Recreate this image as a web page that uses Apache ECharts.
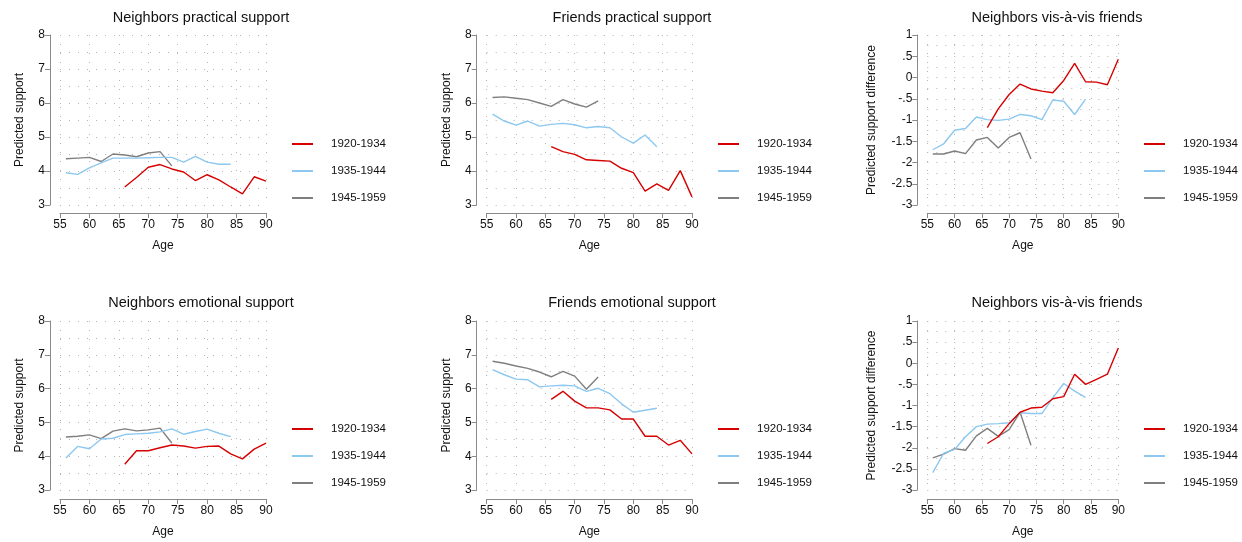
<!DOCTYPE html>
<html>
<head>
<meta charset="utf-8">
<title>Predicted support by age and cohort</title>
<script src="https://cdn.jsdelivr.net/npm/echarts@6/dist/echarts.min.js"></script>
<style>
  html, body { margin: 0; padding: 0; background: #fff; }
  #chart { width: 1242px; height: 542px; }
</style>
</head>
<body>
<div id="chart"></div>
<script>
// ages (even years) shared by all panels
const ages = [56, 58, 60, 62, 64, 66, 68, 70, 72, 74, 76, 78, 80, 82, 84, 86, 88, 90];
const cohorts = ["1920-1934", "1935-1944", "1945-1959"];
const xTicks = [55, 60, 65, 70, 75, 80, 85, 90];
const supportTicks = [3, 4, 5, 6, 7, 8];
const diffTicks = [-3, -2.5, -2, -1.5, -1, -0.5, 0, 0.5, 1];

// Neighbors practical support
const nbPrac1920 = [null, null, null, null, null, 3.53, 3.81, 4.11, 4.19, 4.06, 3.97, 3.72, 3.89, 3.74, 3.53, 3.33, 3.83, 3.70];
const nbPrac1935 = [3.95, 3.90, 4.09, 4.24, 4.38, 4.38, 4.38, 4.39, 4.40, 4.40, 4.26, 4.43, 4.26, 4.20, 4.20, null, null, null];
const nbPrac1945 = [4.36, 4.38, 4.40, 4.28, 4.50, 4.47, 4.42, 4.53, 4.57, 4.15, null, null, null, null, null, null, null, null];

// Friends practical support
const frPrac1920 = [null, null, null, null, null, 4.72, 4.57, 4.49, 4.33, 4.31, 4.29, 4.08, 3.95, 3.41, 3.62, 3.43, 4.01, 3.24];
const frPrac1935 = [5.67, 5.47, 5.35, 5.47, 5.32, 5.37, 5.40, 5.36, 5.27, 5.31, 5.27, 5.00, 4.82, 5.06, 4.71, null, null, null];
const frPrac1945 = [6.16, 6.18, 6.14, 6.10, 6.00, 5.90, 6.10, 5.97, 5.88, 6.06, null, null, null, null, null, null, null, null];

// Neighbors vis-a-vis friends (practical)
const difPrac1920 = [null, null, null, null, null, -1.18, -0.74, -0.40, -0.155, -0.27, -0.32, -0.36, -0.07, 0.33, -0.10, -0.11, -0.17, 0.43];
const difPrac1935 = [-1.70, -1.56, -1.24, -1.20, -0.93, -0.99, -1.01, -0.98, -0.87, -0.90, -0.99, -0.53, -0.56, -0.87, -0.51, null, null, null];
const difPrac1945 = [-1.80, -1.80, -1.73, -1.79, -1.47, -1.41, -1.66, -1.41, -1.30, -1.92, null, null, null, null, null, null, null, null];

// Neighbors emotional support
const nbEmo1920 = [null, null, null, null, null, 3.76, 4.16, 4.16, 4.25, 4.33, 4.30, 4.24, 4.29, 4.30, 4.07, 3.92, 4.21, 4.39];
const nbEmo1935 = [3.95, 4.29, 4.22, 4.51, 4.53, 4.64, 4.66, 4.68, 4.72, 4.81, 4.65, 4.73, 4.80, 4.68, 4.58, null, null, null];
const nbEmo1945 = [4.57, 4.59, 4.63, 4.52, 4.74, 4.81, 4.75, 4.78, 4.83, 4.39, null, null, null, null, null, null, null, null];

// Friends emotional support
const frEmo1920 = [null, null, null, null, null, 5.68, 5.92, 5.63, 5.43, 5.43, 5.37, 5.10, 5.10, 4.59, 4.59, 4.33, 4.47, 4.07];
const frEmo1935 = [6.56, 6.41, 6.28, 6.26, 6.05, 6.08, 6.10, 6.08, 5.92, 6.01, 5.85, 5.55, 5.30, 5.36, 5.42, null, null, null];
const frEmo1945 = [6.81, 6.75, 6.67, 6.60, 6.49, 6.35, 6.51, 6.37, 5.98, 6.34, null, null, null, null, null, null, null, null];

// Neighbors vis-a-vis friends (emotional)
const difEmo1920 = [null, null, null, null, null, -1.90, -1.74, -1.43, -1.16, -1.06, -1.04, -0.84, -0.79, -0.26, -0.50, -0.38, -0.26, 0.36];
const difEmo1935 = [-2.59, -2.13, -2.04, -1.74, -1.50, -1.44, -1.43, -1.41, -1.17, -1.19, -1.19, -0.82, -0.48, -0.66, -0.81, null, null, null];
const difEmo1945 = [-2.24, -2.15, -2.02, -2.06, -1.72, -1.54, -1.73, -1.57, -1.16, -1.94, null, null, null, null, null, null, null, null];

const colors = ["#d60000", "#8cc8ef", "#7f7f7f"];
const FONT = "Liberation Sans, Arial, Helvetica, sans-serif";

const panels = [
  { title: "Neighbors practical support", data: [nbPrac1920, nbPrac1935, nbPrac1945], diff: false },
  { title: "Friends practical support", data: [frPrac1920, frPrac1935, frPrac1945], diff: false },
  { title: "Neighbors vis-à-vis friends", data: [difPrac1920, difPrac1935, difPrac1945], diff: true },
  { title: "Neighbors emotional support", data: [nbEmo1920, nbEmo1935, nbEmo1945], diff: false },
  { title: "Friends emotional support", data: [frEmo1920, frEmo1935, frEmo1945], diff: false },
  { title: "Neighbors vis-à-vis friends", data: [difEmo1920, difEmo1935, difEmo1945], diff: true },
];

// layout of each column / row (pixels)
const colLeft = [60, 486.7, 927.3];
const colWidth = [206, 205.3, 191];
const rowTop = [35, 321];
const rowHeight = [170, 169];
const titleCenter = [196, 627, 1052];
const legendLeft = [287, 713, 1139];

const dotted = { color: "#b4b4b4", width: 1, type: [1, 8] };

function fmtDiff(v) {
  if (v === 0) return "0";
  return String(v).replace("0.", ".");
}

const grid = [], xAxis = [], yAxis = [], series = [], title = [], legend = [];

panels.forEach((p, i) => {
  const col = i % 3, row = Math.floor(i / 3);
  grid.push({ left: colLeft[col], top: rowTop[row], width: colWidth[col], height: rowHeight[row] });
  title.push({
    text: p.title,
    left: titleCenter[col],
    top: row === 0 ? 5 : 290,
    textAlign: "center",
    textStyle: { fontFamily: FONT, fontSize: 14.5, fontWeight: "normal", color: "#111" },
  });
  xAxis.push({
    type: "value", gridIndex: i, min: 55, max: 90, interval: 5,
    offset: row === 0 ? 8 : 9,
    name: "Age", nameLocation: "middle", nameGap: 27,
    nameTextStyle: { fontFamily: FONT, fontSize: 12, color: "#111" },
    axisLine: { show: true, onZero: false, lineStyle: { color: "#8a8a8a", width: 1 } },
    axisTick: { show: true, length: 5, lineStyle: { color: "#8a8a8a" } },
    axisLabel: { fontFamily: FONT, fontSize: 12, color: "#111", margin: 6 },
    splitLine: { show: true, lineStyle: dotted },
  });
  yAxis.push({
    type: "value", gridIndex: i,
    min: p.diff ? -3 : 3, max: p.diff ? 1 : 8, interval: p.diff ? 0.5 : 1,
    offset: 10,
    name: p.diff ? "Predicted support difference" : "Predicted support",
    nameLocation: "middle", nameGap: p.diff ? 40 : 24,
    nameTextStyle: { fontFamily: FONT, fontSize: 12, color: "#111" },
    axisLine: { show: true, onZero: false, lineStyle: { color: "#8a8a8a", width: 1 } },
    axisTick: { show: true, length: 5, lineStyle: { color: "#8a8a8a" } },
    axisLabel: { fontFamily: FONT, fontSize: 12, color: "#111", margin: 5,
      formatter: p.diff ? fmtDiff : null },
    splitLine: { show: true, lineStyle: dotted },
    minorTick: { show: false, splitNumber: 2 },
    minorSplitLine: { show: true, lineStyle: dotted },
  });
  p.data.forEach((vals, k) => {
    series.push({
      name: cohorts[k], type: "line", xAxisIndex: i, yAxisIndex: i,
      data: ages.map((a, j) => [a, vals[j]]),
      connectNulls: false, showSymbol: false, symbol: "none",
      lineStyle: { color: colors[k], width: 1.4 },
      itemStyle: { color: colors[k] },
      z: 3 - k,
      silent: true,
    });
  });
  legend.push({
    data: cohorts, orient: "vertical",
    left: legendLeft[col], top: row === 0 ? 132 : 417,
    icon: "rect", itemWidth: 21, itemHeight: 2, itemGap: 13,
    textStyle: { fontFamily: FONT, fontSize: 11.5, color: "#111", padding: [0, 0, 0, 13], lineHeight: 14 },
    selectedMode: false,
  });
});

const chart = echarts.init(document.getElementById("chart"));
chart.setOption({
  animation: false,
  backgroundColor: "#fff",
  color: colors,
  title, grid, xAxis, yAxis, legend, series,
});
window.addEventListener("resize", () => chart.resize());
</script>
</body>
</html>
